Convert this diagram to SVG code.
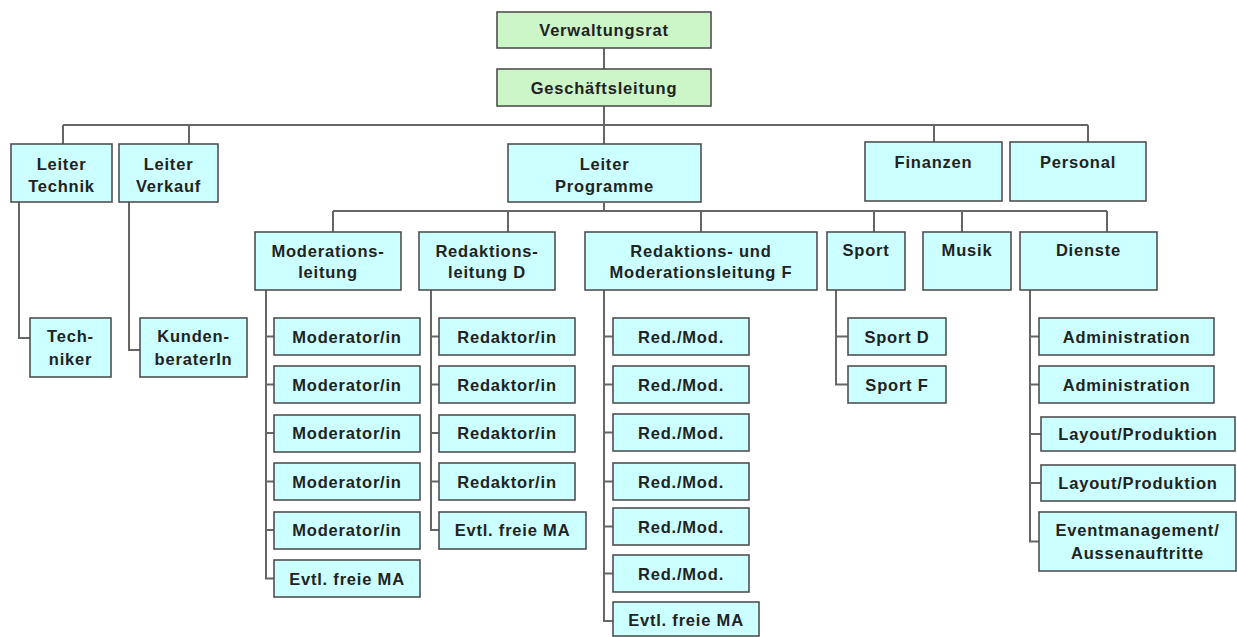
<svg xmlns="http://www.w3.org/2000/svg" width="1237" height="637" viewBox="0 0 1237 637">
<style>
.b{fill:#ccffff;stroke:#505050;stroke-width:1.6}
.g{fill:#ccf5c8;stroke:#505050;stroke-width:1.6}
.t{font-family:"Liberation Sans",Arial,sans-serif;font-weight:bold;font-size:16.5px;letter-spacing:0.8px;fill:#222;text-anchor:middle}
.c{fill:none;stroke:#666;stroke-width:2}
</style>
<rect width="1237" height="637" fill="#fff"/>
<g id="connectors" class="c">
<path d="M604 48V69M604 106V144M63 125H1088M63 125V144M189 125V144M934 125V142M1088 125V142"/>
<path d="M19 202V338H30M129 202V350H140"/>
<path d="M604 203V211M333 211H1107M333 211V232M508 211V232M701 211V232M874 211V232M962 211V232M1107 211V232"/>
<path d="M266 290V578.5H274M266 336.5H274M266 384.5H274M266 433H274M266 481.5H274M266 530H274"/>
<path d="M431 290V530H439M431 336.5H439M431 384.5H439M431 433H439M431 481.5H439"/>
<path d="M604 290V621H613M604 336.5H613M604 384.5H613M604 432.5H613M604 481.5H613M604 526.5H613M604 573.5H613"/>
<path d="M836 290V384.5H848M836 336.5H848"/>
<path d="M1030 290V541.5H1039M1030 336.5H1039M1030 384.5H1039M1030 434H1041M1030 483H1041"/>
</g>
<g id="verwaltungsrat"><rect class="g" x="497" y="12" width="214" height="36"/><text class="t" x="604" y="36">Verwaltungsrat</text></g>
<g id="geschaeftsleitung"><rect class="g" x="497" y="69" width="214" height="37"/><text class="t" x="604" y="93.5">Geschäftsleitung</text></g>
<g id="leiter-technik"><rect class="b" x="11" y="144" width="101" height="58"/><text class="t" x="61.5" y="170">Leiter</text><text class="t" x="61.5" y="192">Technik</text></g>
<g id="leiter-verkauf"><rect class="b" x="119" y="144" width="99" height="58"/><text class="t" x="168.5" y="170">Leiter</text><text class="t" x="168.5" y="192">Verkauf</text></g>
<g id="leiter-programme"><rect class="b" x="508" y="144" width="193" height="58"/><text class="t" x="604.5" y="170">Leiter</text><text class="t" x="604.5" y="192">Programme</text></g>
<g id="finanzen"><rect class="b" x="865" y="142" width="137" height="59"/><text class="t" x="933.5" y="168">Finanzen</text></g>
<g id="personal"><rect class="b" x="1010" y="142" width="136" height="59"/><text class="t" x="1078" y="168">Personal</text></g>
<g id="techniker"><rect class="b" x="30" y="318" width="81" height="59"/><text class="t" x="70.5" y="342">Tech-</text><text class="t" x="70.5" y="365">niker</text></g>
<g id="kundenberater"><rect class="b" x="140" y="318" width="107" height="59"/><text class="t" x="193.5" y="342">Kunden-</text><text class="t" x="193.5" y="365">beraterIn</text></g>
<g id="moderationsleitung"><rect class="b" x="255" y="232" width="146" height="58"/><text class="t" x="328" y="256.5">Moderations-</text><text class="t" x="328" y="278">leitung</text></g>
<g id="redaktionsleitung-d"><rect class="b" x="419" y="232" width="136" height="58"/><text class="t" x="487" y="256.5">Redaktions-</text><text class="t" x="487" y="278">leitung D</text></g>
<g id="redmod-f"><rect class="b" x="585" y="232" width="232" height="58"/><text class="t" x="701" y="256.5">Redaktions- und</text><text class="t" x="701" y="278">Moderationsleitung F</text></g>
<g id="sport"><rect class="b" x="827" y="232" width="78" height="58"/><text class="t" x="866" y="256">Sport</text></g>
<g id="musik"><rect class="b" x="923" y="232" width="88" height="58"/><text class="t" x="967" y="256">Musik</text></g>
<g id="dienste"><rect class="b" x="1020" y="232" width="137" height="58"/><text class="t" x="1088.5" y="256">Dienste</text></g>
<g id="mod1"><rect class="b" x="274" y="318" width="146" height="37"/><text class="t" x="347" y="342.5">Moderator/in</text></g>
<g id="mod2"><rect class="b" x="274" y="366" width="146" height="37"/><text class="t" x="347" y="390.5">Moderator/in</text></g>
<g id="mod3"><rect class="b" x="274" y="415" width="146" height="37"/><text class="t" x="347" y="439">Moderator/in</text></g>
<g id="mod4"><rect class="b" x="274" y="463" width="146" height="37"/><text class="t" x="347" y="487.5">Moderator/in</text></g>
<g id="mod5"><rect class="b" x="274" y="512" width="146" height="37"/><text class="t" x="347" y="536">Moderator/in</text></g>
<g id="mod-frei"><rect class="b" x="274" y="560" width="146" height="37"/><text class="t" x="347" y="584.5">Evtl. freie MA</text></g>
<g id="red1"><rect class="b" x="439" y="318" width="136" height="37"/><text class="t" x="507" y="342.5">Redaktor/in</text></g>
<g id="red2"><rect class="b" x="439" y="366" width="136" height="37"/><text class="t" x="507" y="390.5">Redaktor/in</text></g>
<g id="red3"><rect class="b" x="439" y="415" width="136" height="37"/><text class="t" x="507" y="439">Redaktor/in</text></g>
<g id="red4"><rect class="b" x="439" y="463" width="136" height="37"/><text class="t" x="507" y="487.5">Redaktor/in</text></g>
<g id="red-frei"><rect class="b" x="439" y="512" width="147" height="37"/><text class="t" x="512.5" y="536">Evtl. freie MA</text></g>
<g id="rm1"><rect class="b" x="613" y="318" width="136" height="37"/><text class="t" x="681" y="342.5">Red./Mod.</text></g>
<g id="rm2"><rect class="b" x="613" y="366" width="136" height="37"/><text class="t" x="681" y="390.5">Red./Mod.</text></g>
<g id="rm3"><rect class="b" x="613" y="414" width="136" height="37"/><text class="t" x="681" y="438.5">Red./Mod.</text></g>
<g id="rm4"><rect class="b" x="613" y="463" width="136" height="37"/><text class="t" x="681" y="487.5">Red./Mod.</text></g>
<g id="rm5"><rect class="b" x="613" y="508" width="136" height="37"/><text class="t" x="681" y="532.5">Red./Mod.</text></g>
<g id="rm6"><rect class="b" x="613" y="555" width="136" height="37"/><text class="t" x="681" y="579.5">Red./Mod.</text></g>
<g id="rm-frei"><rect class="b" x="613" y="602" width="146" height="34"/><text class="t" x="686" y="626">Evtl. freie MA</text></g>
<g id="sport-d"><rect class="b" x="848" y="318" width="98" height="37"/><text class="t" x="897" y="342.5">Sport D</text></g>
<g id="sport-f"><rect class="b" x="848" y="366" width="98" height="37"/><text class="t" x="897" y="390.5">Sport F</text></g>
<g id="admin1"><rect class="b" x="1039" y="318" width="175" height="37"/><text class="t" x="1126.5" y="342.5">Administration</text></g>
<g id="admin2"><rect class="b" x="1039" y="366" width="175" height="37"/><text class="t" x="1126.5" y="390.5">Administration</text></g>
<g id="layout1"><rect class="b" x="1041" y="417" width="194" height="34"/><text class="t" x="1138" y="439.5">Layout/Produktion</text></g>
<g id="layout2"><rect class="b" x="1041" y="465" width="194" height="36"/><text class="t" x="1138" y="488.5">Layout/Produktion</text></g>
<g id="event"><rect class="b" x="1039" y="512" width="197" height="59"/><text class="t" x="1137.5" y="536">Eventmanagement/</text><text class="t" x="1137.5" y="559">Aussenauftritte</text></g>
</svg>
